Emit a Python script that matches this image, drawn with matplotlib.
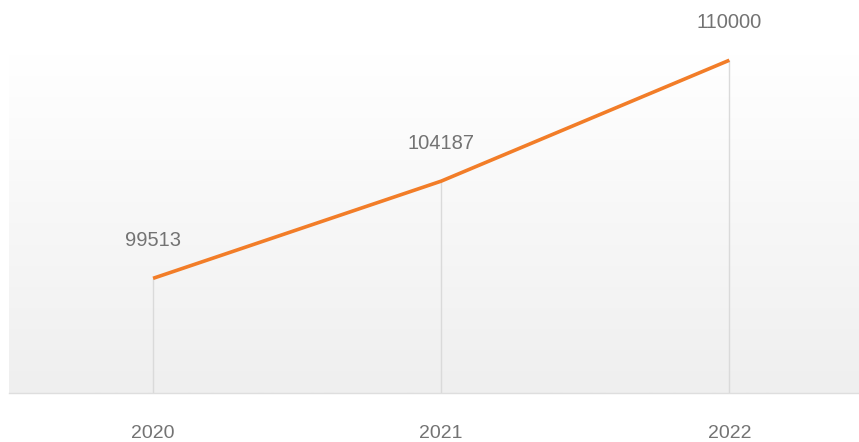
import numpy as np
import matplotlib
matplotlib.use("Agg")
import matplotlib.pyplot as plt
from matplotlib.colors import LinearSegmentedColormap

years = ["2020", "2021", "2022"]
values = [99513, 104187, 110000]

plt.rcParams['font.family'] = ['Liberation Sans', 'DejaVu Sans']

W, H = 859, 442
fig = plt.figure(figsize=(W / 100, H / 100), dpi=100)
# plot area in pixels: left 9, right 859, top 54, bottom 393
ax = fig.add_axes([9 / W, (H - 393) / H, (W - 9) / W, (393 - 54) / H])

x = np.arange(len(years))
ax.set_xlim(-0.5, 2.45)
ax.set_ylim(94000, 110300)

# vertical gradient background: white at top to light grey at bottom
grad = np.linspace(0, 1, 256).reshape(-1, 1)
cmap = LinearSegmentedColormap.from_list("bg", ["#ffffff", "#efefef"])
ax.imshow(grad, aspect="auto", cmap=cmap, extent=[0, 1, 0, 1],
          transform=ax.transAxes, zorder=0)

# drop lines from each point to the baseline
ax.vlines(x, 94000, values, color="#dadada", linewidth=1, zorder=1)

ax.plot(x, values, color="#f27d28", linewidth=2.6, solid_capstyle="butt",
        clip_on=False, zorder=3)

for xi, v in zip(x, values):
    ax.annotate(str(v), (xi, v), xytext=(0, 27), textcoords="offset points",
                ha="center", va="center", fontsize=14.5, color="#737373")

for s in ["top", "left", "right"]:
    ax.spines[s].set_visible(False)
ax.spines["bottom"].set_color("#dedede")
ax.spines["bottom"].set_linewidth(1)

ax.set_yticks([])
ax.set_xticks(x)
ax.set_xticklabels(years, fontsize=14, color="#737373")
ax.tick_params(axis="x", length=0, pad=23)

fig.savefig("out.png", dpi=100)
